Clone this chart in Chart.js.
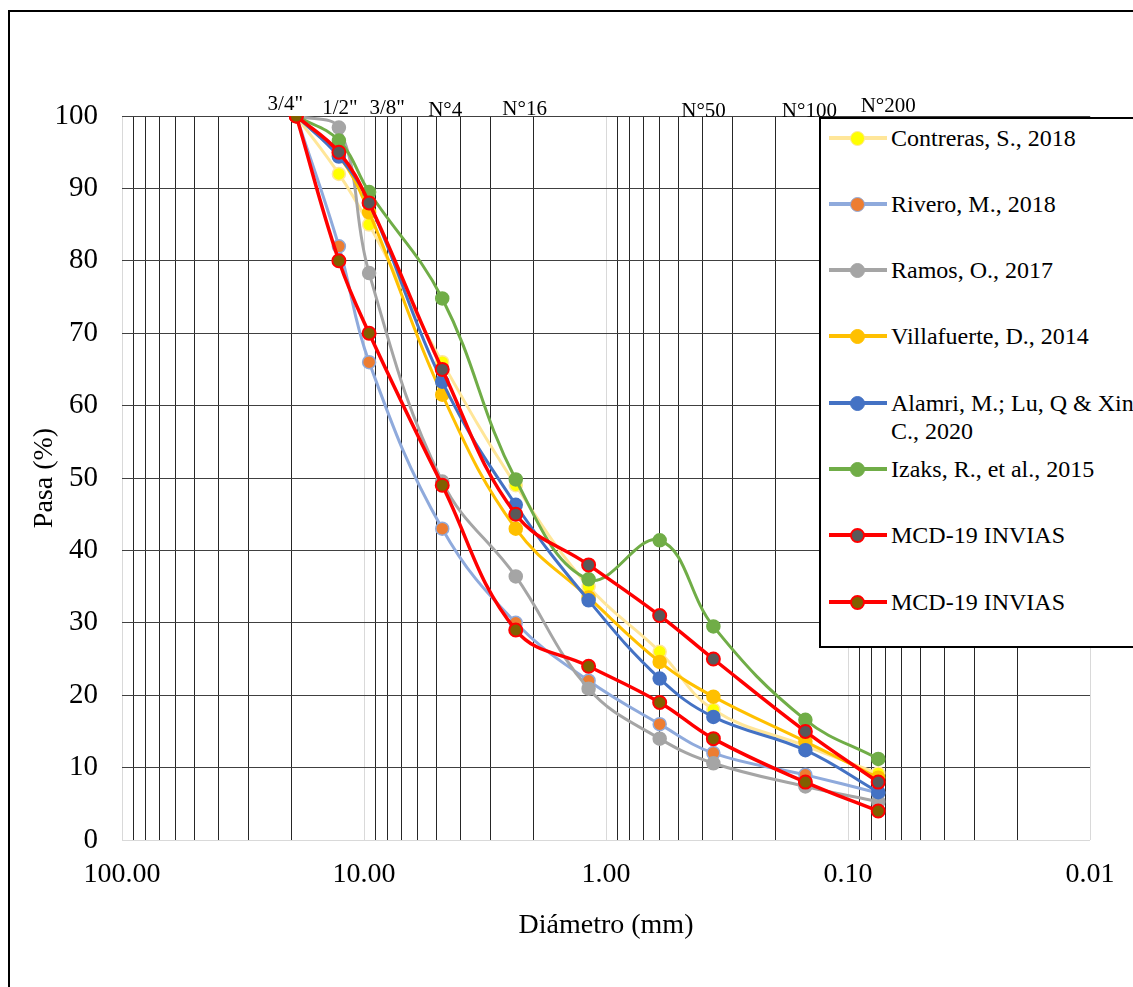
<!DOCTYPE html>
<html>
<head>
<meta charset="utf-8">
<script src="https://cdn.jsdelivr.net/npm/chart.js@4.4.1/dist/chart.umd.min.js"></script>
<style>
  html, body { margin: 0; padding: 0; overflow: hidden; background: #fff; }
  #wrap { position: relative; width: 1133px; height: 987px; overflow: hidden; }
  #frame { position: absolute; left: 8px; top: 10px; width: 1200px; height: 1100px; border: 2px solid #000; box-sizing: border-box; }
  #chart { position: absolute; left: 0; top: 0; }
  #legend { position: absolute; left: 819px; top: 117px; width: 400px; height: 531px; border: 2px solid #000; background: #fff; box-sizing: border-box; font-family: "Liberation Serif", "Times New Roman", serif; font-size: 24px; }
  .item { position: absolute; left: 0; height: 28px; }
  .ln { position: absolute; left: 8px; width: 58px; top: 12px; height: 4px; }
  .dot { position: absolute; left: 29px; top: 7px; width: 15px; height: 15px; border-radius: 50%; box-sizing: border-box; }
  .txt { position: absolute; left: 70px; top: 0; width: 272px; line-height: 28px; color: #000; white-space: normal; }
</style>
</head>
<body>
<div id="wrap">
  <div id="frame"></div>
  <canvas id="chart" width="1133" height="987"></canvas>
  <div id="legend"></div>
</div>
<script>
// sieve openings (mm) and % passing for each study
const sieveSizes = [19.05, 12.7, 9.525, 4.75, 2.36, 1.18, 0.6, 0.36, 0.15, 0.075];
const contreras = [100, 92, 85, 66, 49, 35, 26, 18, 13, 9.2];
const rivero = [100, 82, 66, 43, 30, 22, 16, 12, 9, 6.5];
const ramos = [100, 98.4, 78.3, 49.5, 36.4, 20.9, 14, 10.6, 7.4, 5.3];
const villafuerte = [100, 94.5, 86.7, 61.5, 43, 33.5, 24.6, 19.8, 13.6, 8.6];
const alamri = [100, 94.4, 88, 63.3, 46.3, 33.1, 22.3, 17, 12.4, 6.6];
const izaks = [100, 96.6, 89.5, 74.8, 49.8, 36, 41.4, 29.5, 16.6, 11.2];
const mcdUpper = [100, 95, 88, 65, 45, 38, 31, 25, 15, 8];
const mcdLower = [100, 80, 70, 49, 29, 24, 19, 14, 8, 4];

const seriesNames = ["Contreras, S., 2018", "Rivero, M., 2018", "Ramos, O., 2017", "Villafuerte, D., 2014",
  "Alamri, M.; Lu, Q & Xin, C., 2020", "Izaks, R., et al., 2015", "MCD-19 INVIAS", "MCD-19 INVIAS"];

// sieve names written above the plot
const sieveLabels = ['3/4"', '1/2"', '3/8"', 'N°4', 'N°16', 'N°50', 'N°100', 'N°200'];
const sieveLabelSizes = [19.05, 12.7, 9.525, 4.75, 1.18, 0.3, 0.15, 0.075];

const yTicks = [0, 10, 20, 30, 40, 50, 60, 70, 80, 90, 100];

const FONT = '"Liberation Serif", "Times New Roman", serif';
Chart.defaults.font.family = FONT;
Chart.defaults.color = '#000';

function pts(values) {
  return sieveSizes.map((s, i) => ({ x: s, y: values[i] }));
}

const styles = [
  { line: '#FFE699', fill: '#FFFF00', border: '#FFE699', bw: 1.5, lw: 3 },
  { line: '#8FAADC', fill: '#ED7D31', border: '#8FAADC', bw: 1.5, lw: 3 },
  { line: '#A5A5A5', fill: '#A5A5A5', border: '#A5A5A5', bw: 1.5, lw: 3 },
  { line: '#FFC000', fill: '#FFC000', border: '#FFC000', bw: 1.5, lw: 3 },
  { line: '#4472C4', fill: '#4472C4', border: '#4472C4', bw: 1.5, lw: 3 },
  { line: '#70AD47', fill: '#70AD47', border: '#70AD47', bw: 1.5, lw: 3 },
  { line: '#FF0000', fill: '#595959', border: '#FF0000', bw: 2, lw: 3.5 },
  { line: '#FF0000', fill: '#806000', border: '#FF0000', bw: 2, lw: 3.5 }
];
const seriesValues = [contreras, rivero, ramos, villafuerte, alamri, izaks, mcdUpper, mcdLower];

const datasets = seriesValues.map((vals, i) => ({
  label: seriesNames[i],
  data: pts(vals),
  borderColor: styles[i].line,
  backgroundColor: styles[i].fill,
  borderWidth: styles[i].lw,
  pointBackgroundColor: styles[i].fill,
  pointBorderColor: styles[i].border,
  pointBorderWidth: styles[i].bw,
  pointRadius: 6.5,
  tension: 0.4,
  order: seriesValues.length - i
}));

function isPow10(v) {
  const l = Math.log10(v);
  return Math.abs(l - Math.round(l)) < 1e-9;
}

const xTickValues = [];
for (let e = -2; e <= 1; e++) {
  for (let k = 1; k <= 9; k++) xTickValues.push(k * Math.pow(10, e));
}
xTickValues.push(100);

const sieveLabelPlugin = {
  id: 'sieveLabels',
  afterDraw(chart, args, opts) {
    const { ctx, chartArea } = chart;
    const xs = chart.scales.x;
    ctx.save();
    ctx.font = '21px ' + FONT;
    ctx.fillStyle = '#000';
    ctx.textAlign = 'center';
    ctx.textBaseline = 'alphabetic';
    sieveLabels.forEach((t, i) => {
      const x = xs.getPixelForValue(sieveLabelSizes[i]) + opts.dx[i];
      ctx.fillText(t, x, chartArea.top + opts.dy[i]);
    });
    ctx.restore();
  }
};

const chart = new Chart(document.getElementById('chart').getContext('2d'), {
  type: 'line',
  data: { datasets: datasets },
  options: {
    responsive: false,
    animation: false,
    layout: { padding: { top: 116, right: 43, left: 0, bottom: 0 } },
    plugins: {
      legend: { display: false },
      tooltip: { enabled: false },
      sieveLabels: {
        dx: [-11, 1, 18, 3, -64, -29, 4, 10],
        dy: [-6, -2, -2, 0, -1, 1, 1, -4]
      }
    },
    scales: {
      x: {
        type: 'logarithmic',
        reverse: true,
        min: 0.01,
        max: 100,
        afterBuildTicks: (scale) => { scale.ticks = xTickValues.map(v => ({ value: v })); },
        afterFit: (scale) => { scale.height = 147; },
        border: { display: false },
        grid: {
          drawTicks: false,
          lineWidth: 1,
          color: (c) => (c.tick && isPow10(c.tick.value)) ? '#D9D9D9' : '#262626'
        },
        ticks: {
          autoSkip: false,
          maxRotation: 0,
          padding: 18,
          font: { size: 28 },
          color: '#000',
          callback: (v) => isPow10(v) ? Number(v).toFixed(2) : ''
        },
        title: {
          display: true,
          text: 'Diámetro (mm)',
          font: { size: 28 },
          color: '#000',
          padding: { top: 0, bottom: 45 }
        }
      },
      y: {
        min: 0,
        max: 100,
        afterBuildTicks: (scale) => { scale.ticks = yTicks.map(v => ({ value: v })); },
        afterFit: (scale) => { scale.width = 122; },
        border: { display: false },
        grid: {
          drawTicks: false,
          lineWidth: 1,
          color: (c) => (c.tick && c.tick.value === 0) ? '#D9D9D9' : '#404040'
        },
        ticks: {
          padding: 24,
          font: { size: 29 },
          color: '#000'
        },
        title: {
          display: true,
          text: 'Pasa (%)',
          font: { size: 28 },
          color: '#000',
          padding: { top: 28, bottom: 0 }
        }
      }
    }
  },
  plugins: [sieveLabelPlugin]
});

// legend box drawn over the plot, built from the datasets
const legendEl = document.getElementById('legend');
datasets.forEach((d, i) => {
  const item = document.createElement('div');
  item.className = 'item';
  item.style.top = (4.5 + i * 66.3) + 'px';
  const ln = document.createElement('div');
  ln.className = 'ln';
  ln.style.background = d.borderColor;
  const dot = document.createElement('div');
  dot.className = 'dot';
  dot.style.background = d.pointBackgroundColor;
  dot.style.border = d.pointBorderWidth + 'px solid ' + d.pointBorderColor;
  const txt = document.createElement('div');
  txt.className = 'txt';
  txt.textContent = d.label;
  item.appendChild(ln);
  item.appendChild(dot);
  item.appendChild(txt);
  legendEl.appendChild(item);
});
</script>
</body>
</html>
